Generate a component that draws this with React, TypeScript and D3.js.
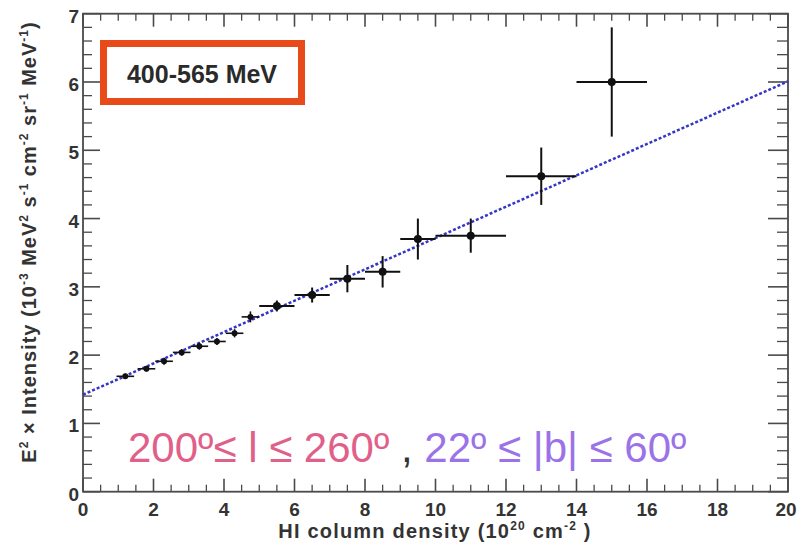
import React from "react";
import * as d3 from "d3";

const pointX = [1.2, 1.8, 2.3, 2.8, 3.3, 3.8, 4.3, 4.75, 5.5, 6.5, 7.5, 8.5, 9.5, 11, 13, 15];
const pointY = [1.69, 1.8, 1.91, 2.04, 2.13, 2.2, 2.32, 2.56, 2.72, 2.88, 3.12, 3.22, 3.7, 3.75, 4.62, 6.0];
const errX = [0.25, 0.25, 0.25, 0.25, 0.25, 0.25, 0.25, 0.25, 0.5, 0.5, 0.5, 0.5, 0.5, 1, 1, 1];
const errY = [0.04, 0.04, 0.05, 0.05, 0.05, 0.05, 0.06, 0.08, 0.08, 0.11, 0.2, 0.23, 0.3, 0.25, 0.42, 0.8];
const fitIntercept = 1.42;
const fitSlope = 0.2295;
const xMajorTicks = [0, 2, 4, 6, 8, 10, 12, 14, 16, 18, 20];
const yMajorTicks = [0, 1, 2, 3, 4, 5, 6, 7];
const energyLabel = "400-565 MeV";

export default function App() {
  const W = 797, H = 547;
  const x = d3.scaleLinear().domain([0, 20]).range([83, 788]);
  const y = d3.scaleLinear().domain([0, 7]).range([491.7, 13.7]);
  const xMinor = d3.range(0, 20.001, 0.5).filter((v) => Math.abs(v / 2 - Math.round(v / 2)) > 1e-6);
  const yMinor = d3.range(0, 7.001, 0.2).filter((v) => Math.abs(v - Math.round(v)) > 1e-6);
  const fitLine = d3.line<number>().x((v) => x(v)).y((v) => y(fitIntercept + fitSlope * v));
  const axisCol = "#4a4a4a";
  const font = "'Liberation Sans', Arial, Helvetica, sans-serif";
  const x0 = x(0), x1 = x(20), y0 = y(0), y1 = y(7);
  const big = (i: number) => pointX[i] > 5;

  return (
    <svg width={W} height={H} style={{ position: "absolute", left: 0, top: 0, background: "#fff" }} fontFamily={font}>
      <rect x={0} y={0} width={W} height={H} fill="#fff" />
      {xMinor.map((v) => (
        <g key={"xm" + v} stroke={axisCol} strokeWidth={1.3}>
          <line x1={x(v)} x2={x(v)} y1={y0} y2={y0 - 7} />
          <line x1={x(v)} x2={x(v)} y1={y1} y2={y1 + 7} />
        </g>
      ))}
      {xMajorTicks.map((v) => (
        <g key={"xM" + v} stroke={axisCol} strokeWidth={1.6}>
          <line x1={x(v)} x2={x(v)} y1={y0} y2={y0 - 13} />
          <line x1={x(v)} x2={x(v)} y1={y1} y2={y1 + 13} />
        </g>
      ))}
      {yMinor.map((v) => (
        <g key={"ym" + v} stroke={axisCol} strokeWidth={1.3}>
          <line x1={x0} x2={x0 + 9} y1={y(v)} y2={y(v)} />
          <line x1={x1} x2={x1 - 11} y1={y(v)} y2={y(v)} />
        </g>
      ))}
      {yMajorTicks.map((v) => (
        <g key={"yM" + v} stroke={axisCol} strokeWidth={1.6}>
          <line x1={x0} x2={x0 + 17} y1={y(v)} y2={y(v)} />
          <line x1={x1} x2={x1 - 20} y1={y(v)} y2={y(v)} />
        </g>
      ))}
      <rect x={x0} y={y1} width={x1 - x0} height={y0 - y1} fill="none" stroke={axisCol} strokeWidth={1.8} />

      {xMajorTicks.map((v) => (
        <text key={"xl" + v} x={v === 20 ? x(v) - 2 : x(v)} y={516} textAnchor="middle" fontSize={19} fontWeight="bold" fill="#333">
          {v}
        </text>
      ))}
      {yMajorTicks.map((v) => (
        <text key={"yl" + v} x={79} y={y(v) + 9} textAnchor="end" fontSize={19} fontWeight="bold" fill="#333">
          {v}
        </text>
      ))}

      <text x={435} y={538} textAnchor="middle" fontSize={20} fontWeight="bold" fill="#333" letterSpacing={1.2}>
        HI column density (10
        <tspan dy={-8} fontSize={12}>20</tspan>
        <tspan dy={8}> cm</tspan>
        <tspan dy={-8} fontSize={12}>-2</tspan>
        <tspan dy={8}> )</tspan>
      </text>
      <text transform="translate(36,242) rotate(-90)" textAnchor="middle" fontSize={20} fontWeight="bold" fill="#333" letterSpacing={1}>
        E<tspan dy={-8} fontSize={12}>2</tspan>
        <tspan dy={8}> × Intensity (10</tspan>
        <tspan dy={-8} fontSize={12}>-3</tspan>
        <tspan dy={8}> MeV</tspan>
        <tspan dy={-8} fontSize={12}>2</tspan>
        <tspan dy={8}> s</tspan>
        <tspan dy={-8} fontSize={12}>-1</tspan>
        <tspan dy={8}> cm</tspan>
        <tspan dy={-8} fontSize={12}>-2</tspan>
        <tspan dy={8}> sr</tspan>
        <tspan dy={-8} fontSize={12}>-1</tspan>
        <tspan dy={8}> MeV</tspan>
        <tspan dy={-8} fontSize={12}>-1</tspan>
        <tspan dy={8}>)</tspan>
      </text>

      <path d={fitLine([0, 20]) || ""} fill="none" stroke="#3535c8" strokeWidth={2.5} strokeDasharray="3 2" />

      {pointX.map((px, i) => (
        <g key={"p" + i} stroke="#111" strokeWidth={big(i) ? 2 : 1.6}>
          <line x1={x(px - errX[i])} x2={x(px + errX[i])} y1={y(pointY[i])} y2={y(pointY[i])} />
          <line x1={x(px)} x2={x(px)} y1={y(pointY[i] - errY[i])} y2={y(pointY[i] + errY[i])} />
          <circle cx={x(px)} cy={y(pointY[i])} r={big(i) ? 4 : 3} fill="#111" stroke="none" />
        </g>
      ))}

      <rect x={103.5} y={43.5} width={198} height={58} fill="#fff" stroke="#e84a1a" strokeWidth={7} />
      <text x={202} y={83} textAnchor="middle" fontSize={25} fontWeight="bold" fill="#2a2a2a">
        {energyLabel}
      </text>

      <text x={128} y={462} fontSize={42} fill="#e0608a">
        200º≤ l ≤ 260º
        <tspan fill="#333"> , </tspan>
        <tspan fill="#9b72e8">22º ≤ |b| ≤ 60º</tspan>
      </text>
    </svg>
  );
}
